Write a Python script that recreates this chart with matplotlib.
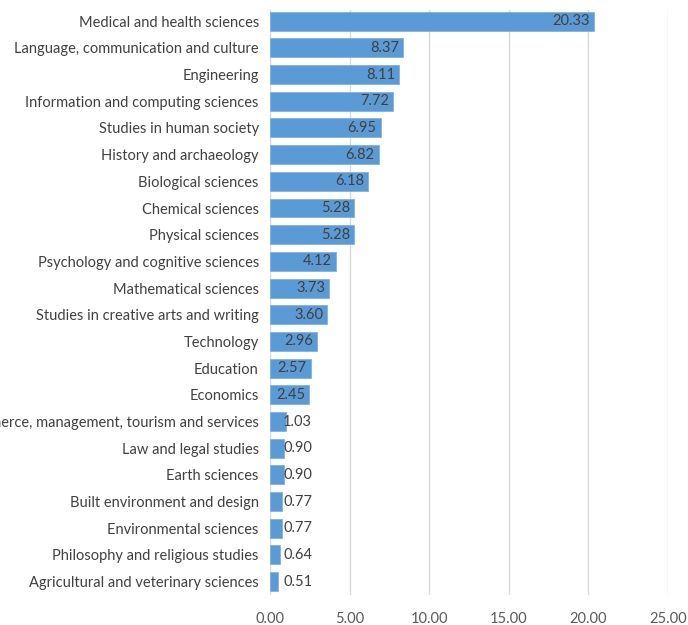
import matplotlib
matplotlib.use("Agg")
import matplotlib.pyplot as plt
import numpy as np

categories = [
    "Medical and health sciences",
    "Language, communication and culture",
    "Engineering",
    "Information and computing sciences",
    "Studies in human society",
    "History and archaeology",
    "Biological sciences",
    "Chemical sciences",
    "Physical sciences",
    "Psychology and cognitive sciences",
    "Mathematical sciences",
    "Studies in creative arts and writing",
    "Technology",
    "Education",
    "Economics",
    "Commerce, management, tourism and services",
    "Law and legal studies",
    "Earth sciences",
    "Built environment and design",
    "Environmental sciences",
    "Philosophy and religious studies",
    "Agricultural and veterinary sciences",
]
values = [20.33, 8.37, 8.11, 7.72, 6.95, 6.82, 6.18, 5.28, 5.28, 4.12, 3.73,
          3.60, 2.96, 2.57, 2.45, 1.03, 0.90, 0.90, 0.77, 0.77, 0.64, 0.51]
xticks = [0, 5, 10, 15, 20, 25]

plt.rcParams['font.family'] = ['Lato', 'DejaVu Sans']

fig = plt.figure(figsize=(6.88, 6.25), dpi=100)
ax = fig.add_axes([0.3924, 0.048, 0.971 - 0.3924, 0.984 - 0.048])

y = np.arange(len(categories))
ax.barh(y, values, height=0.71, color='#5B9BD5', edgecolor='#7FB2E0', linewidth=0.6, zorder=3)

for yi, v in zip(y, values):
    if v >= 2:
        ax.text(v - 0.25, yi, f"{v:.2f}", ha='right', va='center', fontsize=10.5, color='#404040', zorder=4)
    else:
        ax.text(0.82, yi, f"{v:.2f}", ha='left', va='center', fontsize=10.5, color='#404040', zorder=4)

ax.set_yticks(y)
ax.set_yticklabels(categories, fontsize=10.5, color='#404040')
ax.set_ylim(len(categories) - 0.5, -0.42)
ax.set_xlim(0, 25)
ax.set_xticks(xticks)
ax.set_xticklabels([f"{t:.2f}" for t in xticks], fontsize=10.5, color='#595959')
ax.tick_params(axis='both', length=0)
ax.tick_params(axis='y', pad=8)
ax.tick_params(axis='x', pad=12)
ax.grid(axis='x', color='#D9D9D9', linewidth=1, zorder=0)
for s in ax.spines.values():
    s.set_visible(False)

fig.savefig("out.png", dpi=100)
